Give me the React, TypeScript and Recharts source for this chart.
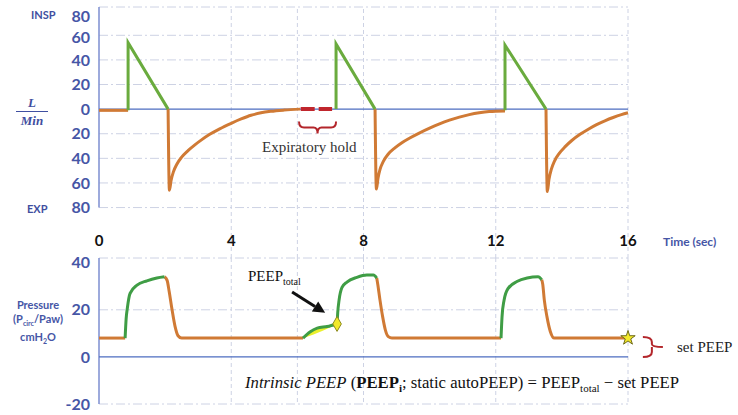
import React from 'react'
import { Area, ComposedChart, Line, ReferenceLine, Scatter, XAxis, YAxis } from 'recharts'

type Pt = { t: number; v: number }

const timeTicks = [0, 4, 8, 12, 16]
const timeGrid = [4, 6, 8, 12, 16]

const flowTicks = [-80, -60, -40, -20, 0, 20, 40, 60, 80]
const flowGrid = [83, 60, 40, 20, -20, -40, -60, -80]
const pressureTicks = [-20, 0, 20, 40]
const pressureGrid = [42, 20, -20]

// flow, L/min (insp > 0, exp < 0)
const flowRest0: Pt[] = [{ t: 0, v: -1 }, { t: 0.88, v: -1 }]
const flowInsp1: Pt[] = [{ t: 0.88, v: -1 }, { t: 0.88, v: 54 }, { t: 2.09, v: 0 }]
const flowExp1: Pt[] = [
  { t: 2.09, v: 0 }, { t: 2.13, v: -66 }, { t: 2.18, v: -58 }, { t: 2.25, v: -51 }, { t: 2.35, v: -45 },
  { t: 2.5, v: -39 }, { t: 2.7, v: -33.5 }, { t: 2.9, v: -29 }, { t: 3.1, v: -25 }, { t: 3.35, v: -20.5 },
  { t: 3.65, v: -16 }, { t: 4.0, v: -11.5 }, { t: 4.3, v: -8 }, { t: 4.6, v: -5 }, { t: 4.9, v: -3 },
  { t: 5.2, v: -1.8 }, { t: 5.6, v: -0.8 }, { t: 6.08, v: 0 },
]
const flowHold: Pt[] = [{ t: 6.1, v: 0 }, { t: 7.05, v: 0 }]
const flowInsp2: Pt[] = [{ t: 7.17, v: 0 }, { t: 7.17, v: 53 }, { t: 8.35, v: 0 }]
const flowExp2: Pt[] = [
  { t: 8.35, v: 0 }, { t: 8.39, v: -65 }, { t: 8.44, v: -56 }, { t: 8.5, v: -49 }, { t: 8.6, v: -42.5 },
  { t: 8.75, v: -36.5 }, { t: 8.95, v: -31.5 }, { t: 9.15, v: -27.5 }, { t: 9.4, v: -23.5 }, { t: 9.7, v: -19.3 },
  { t: 10.0, v: -15.5 }, { t: 10.3, v: -12 }, { t: 10.6, v: -9 }, { t: 10.9, v: -6.5 }, { t: 11.2, v: -4.5 },
  { t: 11.5, v: -3 }, { t: 11.8, v: -2 }, { t: 12.28, v: -1.5 },
]
const flowInsp3: Pt[] = [{ t: 12.28, v: -1 }, { t: 12.28, v: 52 }, { t: 13.52, v: 0 }]
const flowExp3: Pt[] = [
  { t: 13.52, v: 0 }, { t: 13.56, v: -67 }, { t: 13.61, v: -57 }, { t: 13.68, v: -49 }, { t: 13.78, v: -42 },
  { t: 13.92, v: -36 }, { t: 14.1, v: -30.5 }, { t: 14.3, v: -25.5 }, { t: 14.55, v: -20.5 }, { t: 14.8, v: -16.3 },
  { t: 15.05, v: -12.6 }, { t: 15.3, v: -9.5 }, { t: 15.55, v: -6.8 }, { t: 15.8, v: -4.5 }, { t: 16, v: -3 },
]

// pressure, cmH2O
const presRest0: Pt[] = [{ t: 0, v: 8 }, { t: 0.79, v: 8 }]
const presInsp1: Pt[] = [
  { t: 0.79, v: 8 }, { t: 0.82, v: 16 }, { t: 0.86, v: 21 }, { t: 0.94, v: 27 }, { t: 1.15, v: 30.5 },
  { t: 1.45, v: 32.3 }, { t: 1.75, v: 33.5 }, { t: 1.98, v: 34 },
]
const presExp1: Pt[] = [
  { t: 1.98, v: 34 }, { t: 2.06, v: 32.5 }, { t: 2.12, v: 28 }, { t: 2.21, v: 20 }, { t: 2.3, v: 13 },
  { t: 2.39, v: 9 }, { t: 2.5, v: 8 }, { t: 6.17, v: 8 },
]
const presHoldRise: Pt[] = [{ t: 6.17, v: 8 }, { t: 6.38, v: 10.6 }, { t: 6.6, v: 12.2 }, { t: 6.9, v: 12.9 }, { t: 7.2, v: 14 }]
const presHoldFill = [
  { t: 6.17, v: [8, 8] }, { t: 6.38, v: [9, 10.6] }, { t: 6.6, v: [10.2, 12.2] }, { t: 6.9, v: [12, 12.9] }, { t: 7.2, v: [14, 14] },
]
const peepTotalMark: Pt[] = [{ t: 7.2, v: 14 }]
const presInsp2: Pt[] = [
  { t: 7.2, v: 14 }, { t: 7.22, v: 18.7 }, { t: 7.26, v: 24 }, { t: 7.35, v: 29.5 }, { t: 7.5, v: 31.8 },
  { t: 7.8, v: 33.8 }, { t: 8.1, v: 34.8 }, { t: 8.3, v: 34.8 }, { t: 8.4, v: 33.5 },
]
const presExp2: Pt[] = [
  { t: 8.4, v: 33.5 }, { t: 8.43, v: 31 }, { t: 8.5, v: 24 }, { t: 8.58, v: 17 }, { t: 8.66, v: 11.5 },
  { t: 8.75, v: 8.6 }, { t: 8.86, v: 8 }, { t: 12.16, v: 8 },
]
const presInsp3: Pt[] = [
  { t: 12.16, v: 8 }, { t: 12.19, v: 17 }, { t: 12.25, v: 24 }, { t: 12.37, v: 29 }, { t: 12.64, v: 32 },
  { t: 12.95, v: 33.5 }, { t: 13.28, v: 34 }, { t: 13.39, v: 32.8 },
]
const presExp3: Pt[] = [
  { t: 13.39, v: 32.8 }, { t: 13.42, v: 31 }, { t: 13.47, v: 24 }, { t: 13.55, v: 17 }, { t: 13.65, v: 10.8 },
  { t: 13.77, v: 8 }, { t: 16, v: 8 },
]
const setPeepMark: Pt[] = [{ t: 16, v: 8 }]

const GREEN_FLOW = '#6aab3e'
const GREEN_PRES = '#3f9d45'
const ORANGE = '#d07a35'
const AXIS_BLUE = '#7d8ed0'
const ZERO_BLUE = '#4d6cc0'
const GRID = '#cdd2e4'
const LABEL_BLUE = '#4656a6'

const sans = 'Lato, sans-serif'
const serif = '"Liberation Serif", serif'

const tickFont = { fontFamily: sans, fontWeight: 700, fontSize: 16, fill: LABEL_BLUE }

// the upper flow labels sit a little lower than their gridlines in the original
const flowLabelNudge: Record<number, number> = { 80: 6, 60: 2 }

function FlowTick(p: any) {
  const { x, y, payload } = p
  const v = payload.value
  return (
    <text x={x} y={y + (flowLabelNudge[v] ?? 0)} dy="0.355em" textAnchor="end" {...tickFont}>
      {Math.abs(v)}
    </text>
  )
}

function Arrow(p: any) {
  const { x1, y1, x2, y2 } = p
  const a = Math.atan2(y2 - y1, x2 - x1)
  const L = 12
  const W = 6
  const bx = x2 - L * Math.cos(a)
  const by = y2 - L * Math.sin(a)
  const nx = -Math.sin(a) * W
  const ny = Math.cos(a) * W
  return (
    <g>
      <line x1={x1} y1={y1} x2={bx} y2={by} stroke="#111" strokeWidth={3} />
      <polygon points={`${x2},${y2} ${bx + nx},${by + ny} ${bx - nx},${by - ny}`} fill="#111" />
    </g>
  )
}

function BraceDown(p: any) {
  const { x1, y1, x2 } = p
  const m = (x1 + x2) / 2
  const d = `M${x1},${y1} Q${x1},${y1 + 6} ${x1 + 5},${y1 + 6} L${m - 4},${y1 + 6} Q${m},${y1 + 6} ${m},${y1 + 12} Q${m},${y1 + 6} ${m + 4},${y1 + 6} L${x2 - 5},${y1 + 6} Q${x2},${y1 + 6} ${x2},${y1}`
  return <path d={d} fill="none" stroke="#b3262b" strokeWidth={2} />
}

function BraceRight(p: any) {
  const { x1, y1, y2 } = p
  const m = (y1 + y2) / 2
  const d = `M${x1},${y1} Q${x1 + 9},${y1} ${x1 + 9},${y1 + 5} L${x1 + 9},${m - 3} Q${x1 + 9},${m} ${x1 + 20},${m} M${x1 + 9},${m} Q${x1 + 9},${m} ${x1 + 9},${m + 3} L${x1 + 9},${y2 - 5} Q${x1 + 9},${y2} ${x1},${y2}`
  return <path d={d} fill="none" stroke="#b3262b" strokeWidth={2} />
}

export default function App() {
  return (
    <div style={{ position: 'absolute', left: 0, top: 0, width: 738, height: 415, background: '#fff', overflow: 'hidden' }}>
      <div style={{ position: 'absolute', left: 0, top: 0 }}>
        <ComposedChart width={738} height={258} margin={{ top: 7, right: 110, bottom: 0, left: 0 }}>
          <XAxis type="number" dataKey="t" domain={[0, 16]} hide />
          <YAxis
            type="number"
            domain={[-121, 83]}
            ticks={flowTicks}
            width={99}
            axisLine={false}
            tickLine={false}
            tickSize={0}
            tickMargin={9}
            tick={FlowTick}
          />
          {flowGrid.map((g) => (
            <ReferenceLine key={'h' + g} y={g} stroke={GRID} strokeDasharray="9 3 2 3" />
          ))}
          {timeGrid.map((g) => (
            <ReferenceLine key={'v' + g} x={g} stroke={GRID} strokeDasharray="4 3" />
          ))}
          <ReferenceLine segment={[{ x: 0, y: -80 }, { x: 0, y: 83 }]} stroke={AXIS_BLUE} strokeWidth={1.5} />
          <ReferenceLine segment={[{ x: 0, y: 0 }, { x: 16, y: 0 }]} stroke={ZERO_BLUE} strokeWidth={1.2} />
          <ReferenceLine segment={[{ x: 6.05, y: -10 }, { x: 7.17, y: -10 }]} shape={BraceDown} />
          {[flowRest0, flowExp1, flowExp2, flowExp3].map((d, i) => (
            <Line key={'fo' + i} data={d} dataKey="v" type="monotone" stroke={ORANGE} strokeWidth={3} dot={false} isAnimationActive={false} />
          ))}
          {[flowInsp1, flowInsp2, flowInsp3].map((d, i) => (
            <Line key={'fg' + i} data={d} dataKey="v" type="linear" stroke={GREEN_FLOW} strokeWidth={3} dot={false} isAnimationActive={false} />
          ))}
          <Line data={flowHold} dataKey="v" type="linear" stroke="#c0262d" strokeWidth={4} strokeDasharray="14 4" dot={false} isAnimationActive={false} />
        </ComposedChart>
      </div>

      <div style={{ position: 'absolute', left: 0, top: 230 }}>
        <ComposedChart width={738} height={185} margin={{ top: 0, right: 110, bottom: 11, left: 0 }}>
          <XAxis
            type="number"
            dataKey="t"
            domain={[0, 16]}
            ticks={timeTicks}
            orientation="top"
            height={28}
            axisLine={false}
            tickLine={false}
            tickSize={0}
            tickMargin={12}
            tick={{ fontFamily: sans, fontWeight: 700, fontSize: 15, fill: '#111' }}
          />
          <YAxis
            type="number"
            domain={[-20, 42]}
            ticks={pressureTicks}
            width={99}
            axisLine={false}
            tickLine={false}
            tickSize={0}
            tickMargin={9}
            tick={tickFont}
          />
          {pressureGrid.map((g) => (
            <ReferenceLine key={'h' + g} y={g} stroke={GRID} strokeDasharray="9 3 2 3" />
          ))}
          {timeGrid.map((g) => (
            <ReferenceLine key={'v' + g} x={g} stroke={GRID} strokeDasharray="4 3" />
          ))}
          <ReferenceLine segment={[{ x: 0, y: -20 }, { x: 0, y: 42 }]} stroke={AXIS_BLUE} strokeWidth={1.5} />
          <ReferenceLine segment={[{ x: 0, y: 0 }, { x: 16, y: 0 }]} stroke={ZERO_BLUE} strokeWidth={1.2} />
          <ReferenceLine segment={[{ x: 5.84, y: 27.6 }, { x: 6.84, y: 18.7 }]} shape={Arrow} />
          <ReferenceLine segment={[{ x: 16.45, y: 8.5 }, { x: 16.45, y: 0 }]} shape={BraceRight} ifOverflow="visible" />
          <Area data={presHoldFill} dataKey="v" type="monotone" fill="#eaf02c" fillOpacity={1} stroke="none" isAnimationActive={false} />
          {[presRest0, presExp1, presExp2, presExp3].map((d, i) => (
            <Line key={'po' + i} data={d} dataKey="v" type="monotone" stroke={ORANGE} strokeWidth={3} dot={false} isAnimationActive={false} />
          ))}
          {[presHoldRise, presInsp2, presInsp1, presInsp3].map((d, i) => (
            <Line key={'pg' + i} data={d} dataKey="v" type="monotone" stroke={GREEN_PRES} strokeWidth={3} dot={false} isAnimationActive={false} />
          ))}
          <Scatter data={peepTotalMark} dataKey="v" shape="diamond" fill="#f3e92a" stroke="#8c8a1e" strokeWidth={1} isAnimationActive={false} />
          <Scatter data={setPeepMark} dataKey="v" shape="star" fill="#f3e92a" stroke="#6e6a1a" strokeWidth={1} isAnimationActive={false} />
        </ComposedChart>
      </div>

      {/* annotations */}
      <div style={{ position: 'absolute', left: 31, top: 8, font: `700 11px ${sans}`, color: '#3f4fa0' }}>INSP</div>
      <div style={{ position: 'absolute', left: 27, top: 202, font: `700 11px ${sans}`, color: '#3f4fa0' }}>EXP</div>
      <div style={{ position: 'absolute', left: 16, top: 96, width: 32, textAlign: 'center', font: `italic 700 13px ${serif}`, color: '#3f4fa0', lineHeight: '13px' }}>
        <div>L</div>
        <div style={{ borderTop: '1.5px solid #3f4fa0', margin: '2px 0' }} />
        <div>Min</div>
      </div>
      <div style={{ position: 'absolute', left: 663, top: 234, font: `700 12px ${sans}`, color: LABEL_BLUE }}>Time (sec)</div>
      <div style={{ position: 'absolute', left: 0, top: 298, width: 76, textAlign: 'center', font: `700 11px ${sans}`, color: LABEL_BLUE, lineHeight: '14px' }}>
        <div>Pressure</div>
        <div>
          (P<sub style={{ fontSize: 7 }}>circ</sub>/Paw)
        </div>
        <div>
          cmH<sub style={{ fontSize: 7 }}>2</sub>O
        </div>
      </div>
      <div style={{ position: 'absolute', left: 248, top: 268, font: `15px ${serif}`, color: '#111' }}>
        PEEP<sub style={{ fontSize: 10 }}>total</sub>
      </div>
      <div style={{ position: 'absolute', left: 262, top: 139, font: `15px ${serif}`, color: '#333' }}>Expiratory hold</div>
      <div style={{ position: 'absolute', left: 677, top: 339, font: `15px ${serif}`, color: '#222' }}>set PEEP</div>
      <div style={{ position: 'absolute', left: 245, top: 373, font: `16.7px ${serif}`, color: '#111', whiteSpace: 'nowrap' }}>
        <i>Intrinsic PEEP</i> (<b>PEEP<sub style={{ fontSize: 11 }}>i</sub></b>; static autoPEEP) = PEEP<sub style={{ fontSize: 11 }}>total</sub> − set PEEP
      </div>
    </div>
  )
}
